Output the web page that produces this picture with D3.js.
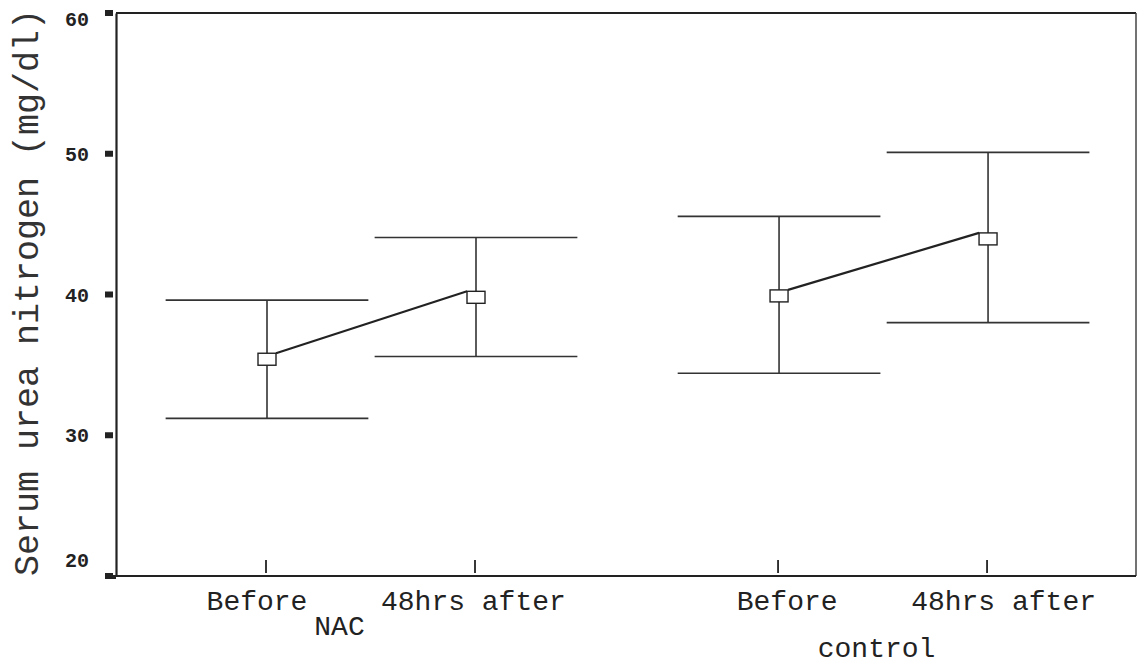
<!DOCTYPE html>
<head>
<meta charset="utf-8">
<title>Serum urea nitrogen</title>
<script type="text/javascript" src="https://d3js.org/d3.v7.min.js"></script>
<style>
body { margin: 0; background: #fff; }
.axis path, .axis line { stroke: #222; }
.tick-label { font-family: "Liberation Mono", monospace; font-weight: bold; font-size: 20px; fill: #222; }
.cat-label { font-family: "Liberation Mono", monospace; font-size: 28px; fill: #222; }
.title { font-family: "Liberation Mono", monospace; font-size: 35px; fill: #333; }
.bar { stroke: #333; stroke-width: 1.6; fill: none; }
.mean-line { stroke: #222; stroke-width: 2.2; fill: none; }
.marker { stroke: #222; stroke-width: 1.4; fill: #fff; }
</style>
</head>
<body>
<div id="container"></div>
<script>
//---------------------------DATA-------------------------------//
const categories = ["Before", "48hrs after", "Before", "48hrs after"];
const groups = ["NAC", "NAC", "control", "control"];
const positions = [0, 1, 2.45, 3.45];
const means = [35.4, 39.8, 39.9, 43.95];
const upper = [39.6, 44.05, 45.55, 50.1];
const lower = [31.2, 35.6, 34.4, 38.0];
const yTicks = [20, 30, 40, 50, 60];
const groupNames = ["NAC", "control"];

//---------------------------SVG--------------------------------//
const width = 1138;
const height = 666;
const svg = d3.select("#container").append("svg")
    .attr("width", width)
    .attr("height", height);

//---------------------------SCALES-----------------------------//
const xScale = d3.scaleLinear().domain([0, 1]).range([267, 476]);
// labels drift slightly right of their ticks across the chart
const xLabel = d3.scaleLinear().domain([0, 1]).range([257, 473.4]);
const yScale = d3.scaleLinear().domain([20, 60]).range([576, 13]);
const left = 116, right = 1136;
const capHalf = 0.485;

//---------------------------FRAME------------------------------//
svg.append("line")
    .attr("x1", left).attr("x2", right)
    .attr("y1", yScale(60)).attr("y2", yScale(60))
    .attr("stroke", "#222").attr("stroke-width", 2);
svg.append("line")
    .attr("x1", right).attr("x2", right)
    .attr("y1", yScale(60)).attr("y2", yScale(20))
    .attr("stroke", "#444").attr("stroke-width", 1.5);

// y axis
const yAxis = d3.axisLeft(yScale).tickValues(yTicks).tickSize(0).tickFormat("");
svg.append("g")
    .attr("class", "axis")
    .attr("transform", "translate(" + left + ",0)")
    .call(yAxis)
    .select(".domain").attr("stroke-width", 2.2);

svg.selectAll(".ytick-sq")
    .data(yTicks)
    .enter().append("rect")
    .attr("x", left - 11)
    .attr("y", d => yScale(d) - 3)
    .attr("width", 8)
    .attr("height", 6)
    .attr("fill", "#222");
svg.append("line")
    .attr("x1", left - 11).attr("x2", left)
    .attr("y1", yScale(20) + 1).attr("y2", yScale(20) + 1)
    .attr("stroke", "#222").attr("stroke-width", 4);

svg.selectAll(".ylab")
    .data(yTicks)
    .enter().append("text")
    .attr("class", "tick-label")
    .attr("text-anchor", "end")
    .attr("x", 89)
    .attr("y", d => yScale(d) + (d === 20 ? -16 : d === 60 ? 6 : 0))
    .attr("dy", "0.35em")
    .text(d => d);

// x axis
svg.append("line")
    .attr("x1", left - 11).attr("x2", right)
    .attr("y1", yScale(20)).attr("y2", yScale(20))
    .attr("stroke", "#222").attr("stroke-width", 2.2);

svg.selectAll(".xtick")
    .data(positions)
    .enter().append("line")
    .attr("x1", d => xScale(d) - 1).attr("x2", d => xScale(d) - 1)
    .attr("y1", yScale(20) - 16).attr("y2", yScale(20) - 3)
    .attr("stroke", "#222").attr("stroke-width", 1.8);

svg.selectAll(".xlab")
    .data(categories)
    .enter().append("text")
    .attr("class", "cat-label")
    .attr("text-anchor", "middle")
    .attr("x", (d, i) => xLabel(positions[i]))
    .attr("y", 610)
    .text(d => d);

svg.selectAll(".glab")
    .data(groupNames)
    .enter().append("text")
    .attr("class", "cat-label")
    .attr("text-anchor", "middle")
    .attr("x", (d, i) => {
        const p = positions.filter((q, j) => groups[j] === d);
        return xScale(d3.mean(p)) - 32 + i * 25;
    })
    .attr("y", (d, i) => i === 0 ? 635 : 657)
    .text(d => d);

// title
svg.append("text")
    .attr("class", "title")
    .attr("text-anchor", "middle")
    .attr("transform", "translate(38," + ((yScale(20) + yScale(60)) / 2 - 2) + ") rotate(-90)")
    .text("Serum urea nitrogen (mg/dl)");

//---------------------------ERROR BARS-------------------------//
const idx = d3.range(categories.length);
const bars = svg.selectAll(".err").data(idx).enter().append("g");
bars.append("line").attr("class", "bar")
    .attr("x1", i => xScale(positions[i])).attr("x2", i => xScale(positions[i]))
    .attr("y1", i => yScale(upper[i])).attr("y2", i => yScale(lower[i]));
bars.append("line").attr("class", "bar")
    .attr("x1", i => xScale(positions[i] - capHalf)).attr("x2", i => xScale(positions[i] + capHalf))
    .attr("y1", i => yScale(upper[i])).attr("y2", i => yScale(upper[i]));
bars.append("line").attr("class", "bar")
    .attr("x1", i => xScale(positions[i] - capHalf)).attr("x2", i => xScale(positions[i] + capHalf))
    .attr("y1", i => yScale(lower[i])).attr("y2", i => yScale(lower[i]));

//---------------------------MEAN LINES-------------------------//
groupNames.forEach(g => {
    const ids = idx.filter(i => groups[i] === g);
    const a = ids[0], b = ids[1];
    svg.append("line").attr("class", "mean-line")
        .attr("x1", xScale(positions[a]) + 9).attr("y1", yScale(means[a]) - 6)
        .attr("x2", xScale(positions[b]) - 9).attr("y2", yScale(means[b]) - 6);
});

bars.append("rect").attr("class", "marker")
    .attr("x", i => xScale(positions[i]) - 9)
    .attr("y", i => yScale(means[i]) - 6)
    .attr("width", 18)
    .attr("height", 12);
</script>
</body>
